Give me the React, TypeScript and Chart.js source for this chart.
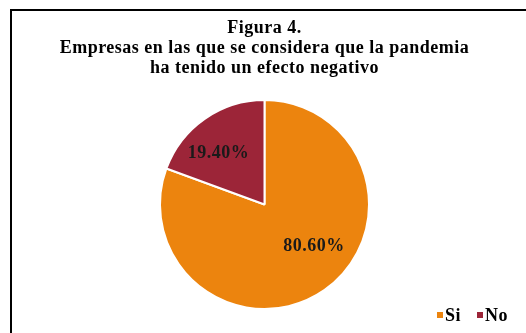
import React, { useEffect, useRef } from "react";
import { Chart, registerables } from "chart.js";

Chart.register(...registerables);

const categories = ["Si", "No"];
const values = [80.6, 19.4];
const titleLines = [
  "Figura 4.",
  "Empresas en las que se considera que la pandemia",
  "ha tenido un efecto negativo",
];
const colors = ["#EC840E", "#9C2538"];

const FONT = "'Liberation Serif', 'Times New Roman', serif";

const spacingPlugin = {
  id: "letterSpacing",
  beforeUpdate(chart: any) {
    (chart.ctx as any).letterSpacing = "0.5px";
  },
  beforeDraw(chart: any) {
    (chart.ctx as any).letterSpacing = "0.5px";
  },
};

const labelPlugin = {
  id: "sliceLabels",
  afterDatasetsDraw(chart: any, _args: any, opts: any) {
    const ctx = chart.ctx;
    const meta = chart.getDatasetMeta(0);
    const data = chart.data.datasets[0].data as number[];
    ctx.save();
    ctx.font = `bold ${opts.size}px ${FONT}`;
    ctx.fillStyle = "#1a1a1a";
    ctx.textAlign = "center";
    ctx.textBaseline = "middle";
    meta.data.forEach((arc: any, i: number) => {
      const p = arc.getProps(["x", "y", "startAngle", "endAngle", "outerRadius"], true);
      const off = opts.place[i] || { da: 0, r: 0.6 };
      const a = (p.startAngle + p.endAngle) / 2 + (off.da * Math.PI) / 180;
      const r = p.outerRadius * off.r;
      ctx.fillText(data[i].toFixed(2) + "%", p.x + Math.cos(a) * r, p.y + Math.sin(a) * r);
    });
    ctx.restore();
  },
};

// compact legend in the bottom-right corner, built from the chart's labels and colours
const cornerLegend = {
  id: "cornerLegend",
  afterDraw(chart: any, _args: any, opts: any) {
    const ctx = chart.ctx;
    const labels = chart.data.labels as string[];
    const bg = chart.data.datasets[0].backgroundColor as string[];
    ctx.save();
    ctx.font = `bold ${opts.size}px ${FONT}`;
    ctx.textBaseline = "middle";
    ctx.textAlign = "left";
    const widths = labels.map((l) => ctx.measureText(l).width);
    const total = widths.reduce(
      (s, w, i) => s + opts.box + opts.gap + w + (i < labels.length - 1 ? opts.itemGap : 0),
      0
    );
    let x = chart.width - opts.right - total;
    const y = chart.height - opts.bottom;
    labels.forEach((l, i) => {
      ctx.fillStyle = bg[i];
      ctx.fillRect(x, y - opts.box / 2, opts.box, opts.box);
      x += opts.box + opts.gap;
      ctx.fillStyle = "#000";
      ctx.fillText(l, x, y + 1);
      x += widths[i] + opts.itemGap;
    });
    ctx.restore();
  },
};

export default function App() {
  const ref = useRef<HTMLCanvasElement>(null);
  useEffect(() => {
    const chart = new Chart(ref.current!, {
      type: "pie",
      data: {
        labels: categories,
        datasets: [
          {
            data: values,
            backgroundColor: colors,
            borderColor: "#ffffff",
            borderWidth: 2,
          },
        ],
      },
      plugins: [spacingPlugin, labelPlugin, cornerLegend],
      options: {
        responsive: false,
        animation: false,
        layout: { padding: { top: 0, left: 12, right: 9, bottom: 23 } },
        plugins: {
          tooltip: { enabled: false },
          legend: { display: false },
          title: {
            display: true,
            text: titleLines,
            color: "#000",
            font: { family: FONT, size: 18, weight: "bold", lineHeight: 20 / 18 },
            padding: { top: 18, bottom: 21 },
          },
          cornerLegend: { size: 18, box: 6, gap: 2, itemGap: 16, right: 18, bottom: 18 },
          sliceLabels: {
            size: 18,
            place: [
              { da: -15, r: 0.62 },
              { da: -7, r: 0.66 },
            ],
          },
        } as any,
      },
    });
    return () => chart.destroy();
  }, []);
  return (
    <div style={{ position: "fixed", left: 0, top: 0, width: 526, height: 333, background: "#fff" }}>
      <canvas ref={ref} width={526} height={333} style={{ position: "absolute", left: 0, top: 0 }} />
      <div
        style={{
          position: "absolute",
          left: 10,
          top: 9,
          width: 530,
          height: 340,
          borderLeft: "2px solid #000",
          borderTop: "2px solid #000",
          pointerEvents: "none",
        }}
      />
    </div>
  );
}
